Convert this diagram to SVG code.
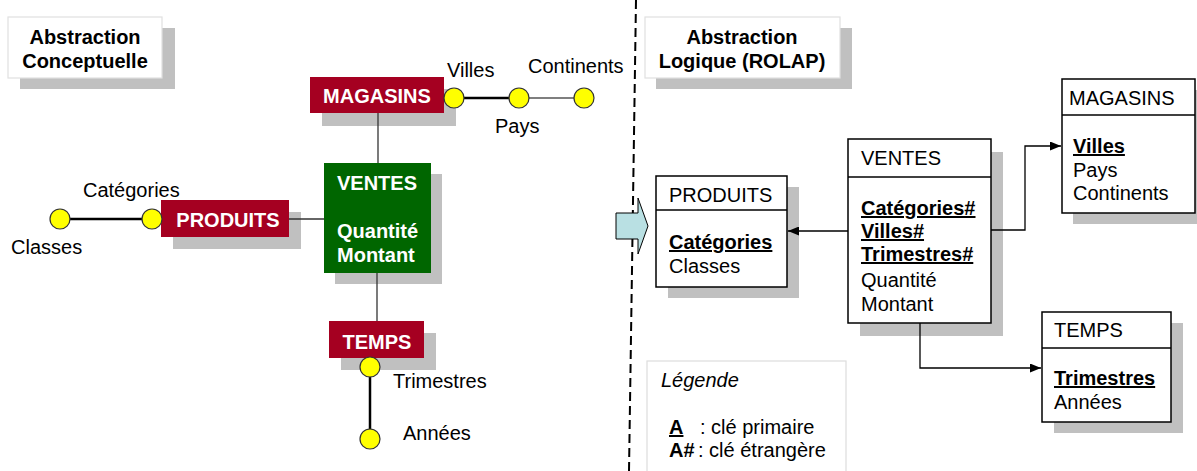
<svg xmlns="http://www.w3.org/2000/svg" width="1197" height="471" viewBox="0 0 1197 471">
<style>
text{font-family:"Liberation Sans",Arial,sans-serif;font-size:20px;fill:#000}
.b{font-weight:bold}
.w{fill:#fff;font-weight:bold}
.u{text-decoration:underline}
.c{text-anchor:middle}
.sh{fill:#c0c0c0}
.red{fill:#a50021}
.grn{fill:#006600}
.tbl{fill:#fff;stroke:#000;stroke-width:1.5}
.title{fill:#fff;stroke:#e0e0e0;stroke-width:1.2}
.dot{fill:#ffff00;stroke:#333;stroke-width:1.2}
.thin{stroke:#333;stroke-width:1.3;fill:none}
.thick{stroke:#000;stroke-width:2.5;fill:none}
.mid{stroke:#555;stroke-width:1.5;fill:none}
.conn{stroke:#000;stroke-width:1.3;fill:none;marker-end:url(#ah)}
</style>
<defs>
<marker id="ah" markerUnits="userSpaceOnUse" markerWidth="11" markerHeight="9" refX="11" refY="4.5" orient="auto">
<path d="M0,0 L11,4.5 L0,9 z" fill="#000"/>
</marker>
</defs>
<rect width="1197" height="471" fill="#fff"/>

<!-- dashed separator -->
<line x1="636" y1="0" x2="629" y2="471" stroke="#000" stroke-width="2" stroke-dasharray="9,5"/>

<!-- title boxes -->
<g id="title-conceptuelle">
<rect class="sh" x="20" y="28" width="155" height="61"/>
<rect class="title" x="8" y="17" width="154" height="61"/>
<text class="b c" x="85" y="44">Abstraction</text>
<text class="b c" x="85" y="68">Conceptuelle</text>
</g>
<g id="title-logique">
<rect class="sh" x="656" y="28" width="196" height="61"/>
<rect class="title" x="645" y="17" width="195" height="61"/>
<text class="b c" x="742" y="44">Abstraction</text>
<text class="b c" x="742" y="68">Logique (ROLAP)</text>
</g>

<!-- left: conceptual -->
<g id="c-magasins">
<rect class="sh" x="322" y="89" width="134" height="37"/>
<rect class="red" x="310" y="77" width="134" height="36"/>
<text class="w c" x="377" y="103">MAGASINS</text>
</g>
<g id="c-produits">
<rect class="sh" x="173" y="212" width="128" height="37"/>
<rect class="red" x="161" y="200" width="128" height="37"/>
<text class="w c" x="228" y="227">PRODUITS</text>
</g>
<g id="c-ventes">
<rect class="sh" x="335" y="174" width="107" height="110"/>
<rect class="grn" x="324" y="163" width="107" height="110"/>
<text class="w" x="337" y="190">VENTES</text>
<text class="w" x="337" y="238">Quantité</text>
<text class="w" x="337" y="262">Montant</text>
</g>
<g id="c-temps">
<rect class="sh" x="341" y="333" width="95" height="37"/>
<rect class="red" x="329" y="321" width="95" height="37"/>
<text class="w c" x="377" y="349">TEMPS</text>
</g>

<!-- transition arrow -->
<g id="arrow">
<polygon points="616,213 638,213 638,198 648,226 638,254 638,239 616,239" fill="#b9e0e3" stroke="#000" stroke-width="1"/>
</g>

<!-- right: logical -->
<g id="t-produits">
<rect class="sh" x="668" y="187" width="131" height="111"/>
<rect class="tbl" x="656" y="176" width="131" height="111"/>
<line x1="656" y1="210" x2="787" y2="210" stroke="#000" stroke-width="1.5"/>
<text x="669" y="202">PRODUITS</text>
<text class="b u" x="669" y="249">Catégories</text>
<text x="669" y="273">Classes</text>
</g>
<g id="t-ventes">
<rect class="sh" x="860" y="152" width="143" height="184"/>
<rect class="tbl" x="848" y="139" width="143" height="184"/>
<line x1="848" y1="177" x2="991" y2="177" stroke="#000" stroke-width="1.5"/>
<text x="861" y="165">VENTES</text>
<text class="b u" x="861" y="215">Catégories#</text>
<text class="b u" x="861" y="238">Villes#</text>
<text class="b u" x="861" y="261">Trimestres#</text>
<text x="861" y="287">Quantité</text>
<text x="861" y="311">Montant</text>
</g>
<g id="t-magasins">
<rect class="sh" x="1073" y="90" width="134" height="134"/>
<rect class="tbl" x="1062" y="79" width="133" height="134"/>
<line x1="1062" y1="115" x2="1195" y2="115" stroke="#000" stroke-width="1.5"/>
<text x="1069" y="105">MAGASINS</text>
<text class="b u" x="1073" y="153">Villes</text>
<text x="1073" y="177">Pays</text>
<text x="1073" y="200">Continents</text>
</g>
<g id="t-temps">
<rect class="sh" x="1054" y="323" width="129" height="110"/>
<rect class="tbl" x="1042" y="312" width="129" height="110"/>
<line x1="1042" y1="348" x2="1171" y2="348" stroke="#000" stroke-width="1.5"/>
<text x="1054" y="337">TEMPS</text>
<text class="b u" x="1054" y="385">Trimestres</text>
<text x="1054" y="409">Années</text>
</g>
<g id="legend">
<rect x="647" y="361" width="199" height="120" fill="#fff" stroke="#ddd" stroke-width="1.2"/>
<text x="661" y="387" font-style="italic">Légende</text>
<text class="b u" x="669" y="434">A</text>
<text x="700" y="434">: clé primaire</text>
<text class="b" x="669" y="457">A#</text>
<text x="698" y="457">: clé étrangère</text>
</g>

<!-- connectors -->
<g id="connectors">
<line class="thin" x1="378" y1="113" x2="378" y2="163"/>
<line class="thin" x1="289" y1="219" x2="324" y2="219"/>
<line class="thin" x1="377" y1="273" x2="377" y2="321"/>
<line class="thick" x1="454" y1="98" x2="519" y2="98"/>
<line class="mid" x1="519" y1="98" x2="584" y2="98"/>
<line class="thick" x1="60" y1="219" x2="152" y2="219"/>
<line class="thick" x1="370" y1="367" x2="370" y2="439"/>
<path class="conn" d="M848,231 H788"/>
<path class="conn" d="M991,230 H1025 V146 H1061"/>
<path class="conn" d="M920,323 V368 H1041"/>
</g>

<!-- attribute nodes (level circles) -->
<g id="c-villes">
<ellipse class="dot" cx="454" cy="98" rx="10" ry="10"/>
<text x="447" y="77">Villes</text>
</g>
<g id="c-pays">
<ellipse class="dot" cx="519" cy="98" rx="10" ry="10"/>
<text x="495" y="133">Pays</text>
</g>
<g id="c-continents">
<ellipse class="dot" cx="584" cy="98" rx="10" ry="10"/>
<text x="528" y="73">Continents</text>
</g>
<g id="c-categories">
<ellipse class="dot" cx="152" cy="219" rx="10" ry="10"/>
<text x="83" y="197">Catégories</text>
</g>
<g id="c-classes">
<ellipse class="dot" cx="60" cy="219" rx="10" ry="10"/>
<text x="11" y="254">Classes</text>
</g>
<g id="c-trimestres">
<ellipse class="dot" cx="370" cy="367" rx="10" ry="10"/>
<text x="393" y="388">Trimestres</text>
</g>
<g id="c-annees">
<ellipse class="dot" cx="370" cy="439" rx="10" ry="10"/>
<text x="403" y="440">Années</text>
</g>
</svg>
